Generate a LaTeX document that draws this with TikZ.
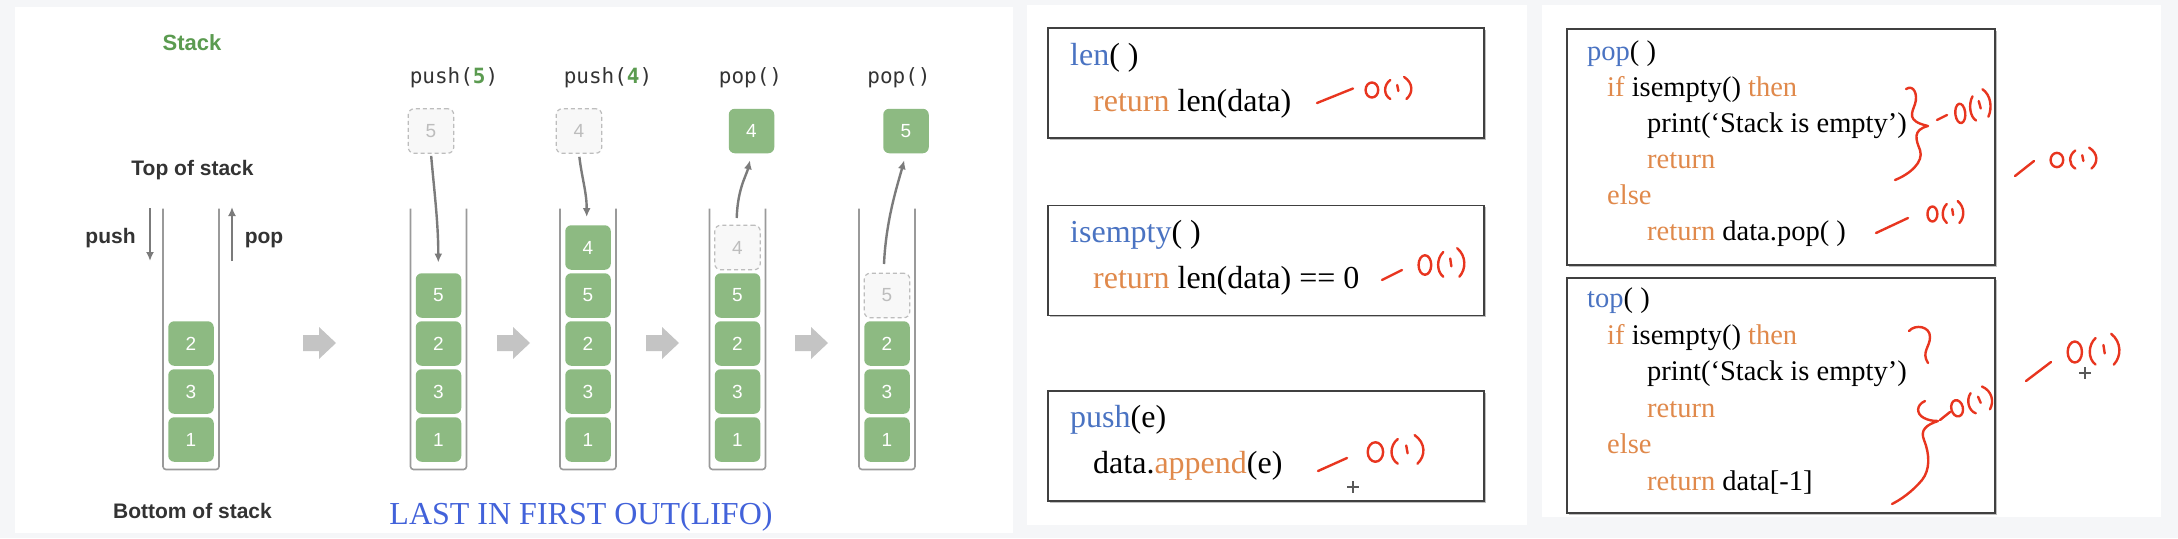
\documentclass[tikz,border=0pt]{standalone}
\usepackage{fontspec}
\setmainfont{Liberation Serif}
\setsansfont{Liberation Sans}
\setmonofont{DejaVu Sans Mono}
\usepackage{tikz}
\usetikzlibrary{arrows.meta,positioning,shadows}

\definecolor{pagebg}{HTML}{F5F6F8}
\definecolor{blockgreen}{HTML}{8DBA82}
\definecolor{titlegreen}{HTML}{5B9B50}
\definecolor{inkdark}{HTML}{333333}
\definecolor{tubegray}{HTML}{9A9A9A}
\definecolor{ghostgray}{HTML}{BDBDBD}
\definecolor{ghostfill}{HTML}{F8F8F8}
\definecolor{arrowgray}{HTML}{7B7B7B}
\definecolor{fatgray}{HTML}{C4C4C4}
\definecolor{codeblue}{HTML}{4A73C2}
\definecolor{codeorange}{HTML}{E0894B}
\definecolor{penred}{HTML}{E8351F}
\definecolor{lifoblue}{HTML}{4262DA}

\tikzset{
blk/.style= {rectangle, rounded corners=6pt, fill=blockgreen, text=white, minimum width=45.5pt, minimum height=44.5pt, inner sep=0pt, font=\sffamily\fontsize{19}{19}\selectfont},
ghost/.style= {blk, fill=ghostfill, draw=ghostgray, dash pattern=on 4pt off 3pt, line width=1.2pt, text=ghostgray},
opname/.style= {font=\ttfamily\fontsize{21}{21}\selectfont, text=inkdark, anchor=base, inner sep=0pt},
sidelabel/.style= {font=\sffamily\bfseries\fontsize{21}{21}\selectfont, text=inkdark, anchor=base, inner sep=0pt},
codeB/.style= {font=\fontsize{32}{32}\selectfont, anchor=base west, inner sep=0pt},
codeC/.style= {font=\fontsize{28.5}{28.5}\selectfont, anchor=base west, inner sep=0pt},
codebox/.style= {draw=black!75, line width=1.5pt, fill=white, inner sep=0pt, drop shadow={shadow xshift=1.5pt, shadow yshift=-1.5pt, opacity=0.25, fill=black}},
tube/.style= {draw=tubegray, line width=1.6pt, rounded corners=3pt},
movearrow/.style= {-{Latex[length=9pt,width=8pt]}, draw=arrowgray, line width=2.4pt},
handmark/.style= {draw=penred, line width=2.4pt, line cap=round, line join=round},
cursor/.style= {draw=black!65, line width=1.3pt},
ohone/.pic={
  \draw[handmark] (6,0) ellipse [x radius=5.5, y radius=7.5];
  \draw[handmark] (22,-10) .. controls (16,-5) and (16,5) .. (22,9);
  \draw[handmark] (28,-5) -- (29,1);
  \draw[handmark] (34,-13) .. controls (42,-7) and (42,3) .. (36,9);
}
}

\begin{document}
\begin{tikzpicture}[x=1pt, y=-1pt]
\useasboundingbox (0,0) rectangle (2178,538);
\fill[pagebg] (0,0) rectangle (2178,538);
\fill[white] (15,7) rectangle (1013,533);
\fill[white] (1027,5) rectangle (1527,525);
\fill[white] (1542,5) rectangle (2161,517);

% stack pictures
\node[sidelabel, text=titlegreen, font=\sffamily\bfseries\fontsize{22}{22}\selectfont] (title) at (192,50) {Stack};
\node[sidelabel] (topl) at (192.5,175) {Top of stack};
\node[sidelabel] (pushl) at (110.5,243) {push};
\node[sidelabel] (popl) at (264,243) {pop};
\node[sidelabel] (botl) at (192.5,518) {Bottom of stack};

\foreach \cx in {191,438.5,588,737.5,887}
  \draw[tube] ({\cx-28},208.5) |- ({\cx+28},469.5) -- ({\cx+28},208.5);

\foreach \v [count=\i] in {1,3,2}
  \node[blk] (a\i) at (191,{439.5-48*(\i-1)}) {\v};
\foreach \v [count=\i] in {1,3,2,5}
  \node[blk] (b\i) at (438.5,{439.5-48*(\i-1)}) {\v};
\foreach \v [count=\i] in {1,3,2,5,4}
  \node[blk] (c\i) at (588,{439.5-48*(\i-1)}) {\v};
\foreach \v [count=\i] in {1,3,2,5}
  \node[blk] (d\i) at (737.5,{439.5-48*(\i-1)}) {\v};
\node[ghost] (d5) at (737.5,247.5) {4};
\foreach \v [count=\i] in {1,3,2}
  \node[blk] (e\i) at (887,{439.5-48*(\i-1)}) {\v};
\node[ghost] (e4) at (887,295.5) {5};

\node[ghost] (g2) at (431,131) {5};
\node[ghost] (g3) at (579,131) {4};
\node[blk] (p4) at (751.5,131) {4};
\node[blk] (p5) at (906,131) {5};

\node[opname] (op2) at (454,83) {push({\bfseries\color{titlegreen}5})};
\node[opname] (op3) at (608,83) {push({\bfseries\color{titlegreen}4})};
\node[opname] (op4) at (750.5,83) {pop()};
\node[opname] (op5) at (899,83) {pop()};

\coordinate (pushtop) at (150,208);
\coordinate (pushend) at (150,261);
\coordinate (popbot) at (232,261);
\coordinate (poptop) at (232,207);
\draw[movearrow, line width=2pt] (pushtop) -- (pushend);
\draw[movearrow, line width=2pt] (popbot) -- (poptop);

\coordinate (b-in) at (438.3,262.5);
\coordinate (c-in) at (586.7,217);
\coordinate (d-out) at (736.7,218);
\coordinate (e-out) at (884,264);
\draw[movearrow, shorten <=2pt] (g2.south) .. controls +(3,35) and +(0,-40) .. (b-in);
\draw[movearrow, shorten <=3pt] (g3.south) .. controls +(3,25) and +(0,-25) .. (c-in);
\draw[movearrow, shorten >=7pt] (d-out) .. controls +(1,-30) and +(-5,22) .. (p4.south);
\draw[movearrow, shorten >=7pt] (e-out) .. controls +(2,-45) and +(-8,30) .. (p5.south);

\foreach \ax in {303,497,646,795}
  \fill[fatgray] (\ax,335) -- ++(16,0) -- ++(0,-8) -- ++(17,16) -- ++(-17,16) -- ++(0,-8) -- ++(-16,0) -- cycle;

\node[font=\fontsize{32}{32}\selectfont, text=lifoblue, anchor=base, inner sep=0pt] (lifo) at (581,524) {LAST IN FIRST OUT(LIFO)};

% len, isempty, push
\node[codebox, minimum width=436pt, minimum height=110pt] (lenbox) at (1266,83) {};
\node[codebox, minimum width=436pt, minimum height=110pt] (empbox) at (1266,260.5) {};
\node[codebox, minimum width=436pt, minimum height=110pt] (pshbox) at (1266,446) {};

\node[codeB] (len0) at (1070,65) {\textcolor{codeblue}{len}( )};
\node[codeB] (len1) at ([xshift=23pt,yshift=-46.5pt]len0.base west) {\textcolor{codeorange}{return} len(data)};
\node[codeB] (emp0) at (1070,242) {\textcolor{codeblue}{isempty}( )};
\node[codeB] (emp1) at ([xshift=23pt,yshift=-46pt]emp0.base west) {\textcolor{codeorange}{return} len(data) == 0};
\node[codeB] (psh0) at (1070,427) {\textcolor{codeblue}{push}(e)};
\node[codeB] (psh1) at ([xshift=23pt,yshift=-46pt]psh0.base west) {data.\textcolor{codeorange}{append}(e)};

% pop, top
\node[codebox, minimum width=428pt, minimum height=236pt] (popbox) at (1781,147) {};
\node[codebox, minimum width=428pt, minimum height=235pt] (topbox) at (1781,395.5) {};

\node[codeC] (pop0) at (1587,60.7) {\textcolor{codeblue}{pop}( )};
\node[codeC] (pop1) at ([xshift=20pt,yshift=-36pt]pop0.base west) {\textcolor{codeorange}{if} isempty() \textcolor{codeorange}{then}};
\node[codeC] (pop2) at ([xshift=40pt,yshift=-36pt]pop1.base west) {print(‘Stack is empty’)};
\node[codeC] (pop3) at ([yshift=-36pt]pop2.base west) {\textcolor{codeorange}{return}};
\node[codeC] (pop4) at ([xshift=-40pt,yshift=-36pt]pop3.base west) {\textcolor{codeorange}{else}};
\node[codeC] (pop5) at ([xshift=40pt,yshift=-36pt]pop4.base west) {\textcolor{codeorange}{return} data.pop( )};

\node[codeC] (top0) at (1587,307.5) {\textcolor{codeblue}{top}( )};
\node[codeC] (top1) at ([xshift=20pt,yshift=-36.5pt]top0.base west) {\textcolor{codeorange}{if} isempty() \textcolor{codeorange}{then}};
\node[codeC] (top2) at ([xshift=40pt,yshift=-36.5pt]top1.base west) {print(‘Stack is empty’)};
\node[codeC] (top3) at ([yshift=-36.5pt]top2.base west) {\textcolor{codeorange}{return}};
\node[codeC] (top4) at ([xshift=-40pt,yshift=-36.5pt]top3.base west) {\textcolor{codeorange}{else}};
\node[codeC] (top5) at ([xshift=40pt,yshift=-36.5pt]top4.base west) {\textcolor{codeorange}{return} data[-1]};

% red pen notes
\draw[handmark] (1317,103) -- (1353,88.5);
\pic[xscale=1.15] at (1365,90) {ohone};
\draw[handmark] (1382,280) -- (1402,270);
\pic[xscale=1.15, yscale=1.3] at (1418,265) {ohone};
\draw[handmark] (1318,471) -- (1347,458);
\pic[xscale=1.4, yscale=1.3] at (1367,452) {ohone};

\draw[handmark] (1906,89) .. controls (1914,84) and (1918,95) .. (1915,104)
  .. controls (1912,113) and (1906,121) .. (1928,126)
  .. controls (1912,130) and (1916,140) .. (1920,150)
  .. controls (1924,162) and (1910,174) .. (1895,180);
\draw[handmark] (1937,120) -- (1947,115);
\pic[xscale=0.9, yscale=1.3, rotate=12] at (1955,115) {ohone};
\draw[handmark] (1876,233) -- (1908,218);
\pic[xscale=0.9] at (1927,214) {ohone};
\draw[handmark] (2015,176) -- (2034,161);
\pic[xscale=1.15, yscale=0.95] at (2050,160) {ohone};

\draw[handmark] (1909,331) .. controls (1915,324) and (1930,326) .. (1930,337)
  .. controls (1930,347) and (1921,352) .. (1928,363);
\draw[handmark] (1925,401) .. controls (1916,405) and (1916,414) .. (1924,418)
  .. controls (1928,420) and (1932,421) .. (1938,421)
  .. controls (1926,425) and (1920,430) .. (1924,440)
  .. controls (1930,455) and (1930,470) .. (1922,480)
  .. controls (1912,492) and (1900,500) .. (1892,504);
\draw[handmark] (1940,420) -- (1950,412);
\pic[xscale=1.05, yscale=1.1, rotate=15] at (1951,410) {ohone};
\draw[handmark] (2026,381) -- (2051,362);
\pic[xscale=1.3, yscale=1.4] at (2067,352) {ohone};

\draw[cursor] (1347,487) -- (1359,487) (1353,481) -- (1353,493);
\draw[cursor] (2079,373) -- (2091,373) (2085,367) -- (2085,379);
\end{tikzpicture}
\end{document}
